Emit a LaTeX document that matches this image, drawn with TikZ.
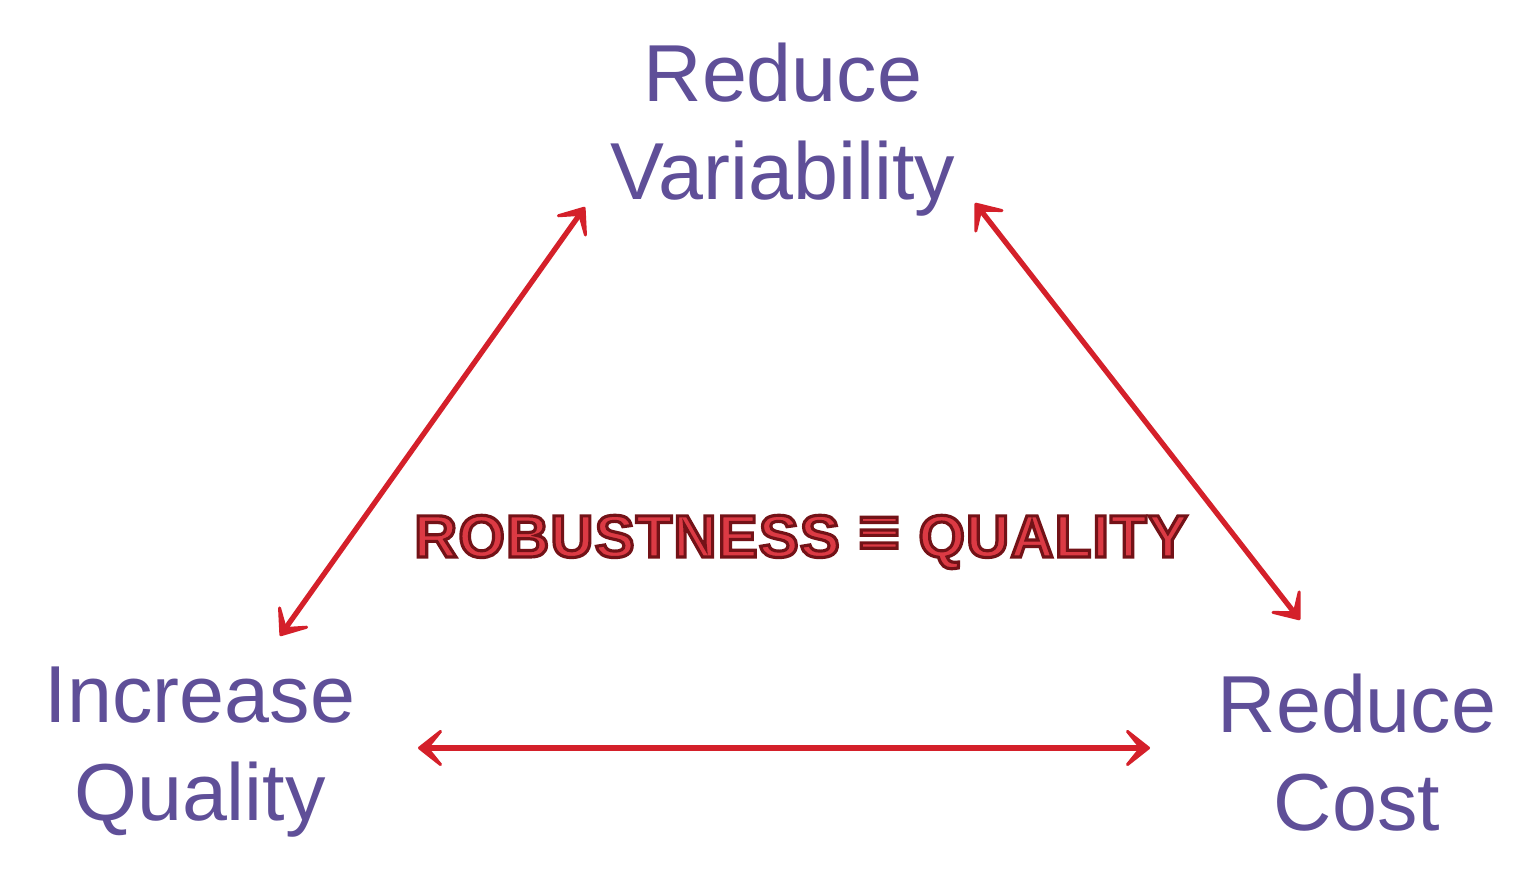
\documentclass[tikz,border=0pt]{standalone}
\usepackage{fontspec}
\setmainfont{Liberation Sans}
\usetikzlibrary{
  arrows.meta,
  positioning
}
\definecolor{triPurple}{HTML}{5F4F98}
\definecolor{triRed}{HTML}{D4202A}
\definecolor{triFill}{HTML}{DC3A44}
% outlined text: fill in current colour, stroke dark red
\newcommand\outlinetext[1]{%
  \special{pdf:literal direct q 2 Tr 0.9 w 0.45 0.07 0.09 RG}#1\special{pdf:literal direct Q}}
\tikzset{
  every node/.style={inner sep=0pt},
  goal/.style={
    align=center,
    text=triPurple,
    font=\fontsize{23}{28}\selectfont
  },
  motto/.style={
    text=triFill,
    font=\fontsize{17}{20}\selectfont\bfseries\addfontfeature{LetterSpace=2}
  },
  tradeoff/.style={
    {Stealth[round,length=3.3mm,width=5.2mm,inset=2.1mm]}-{Stealth[round,length=3.3mm,width=5.2mm,inset=2.1mm]},
    line width=1.5pt,
    line cap=round,
    line join=round,
    draw=triRed
  }
}
\begin{document}
\begin{tikzpicture}
  \useasboundingbox (0,0) rectangle (15.2,8.84);

  \node[goal, anchor=north] (variability) at (7.83,8.42) {Reduce\\Variability};
  \node[goal, anchor=north] (quality) at (2.00,2.18) {Increase\\Quality};
  \node[goal, anchor=north] (cost) at (13.57,2.11) {Reduce\\Cost};

  \node[motto, anchor=base] (robust) at (8.01,3.27)
    {\outlinetext{ROBUSTNESS {\fontsize{21}{20}\selectfont≡} QUALITY}};

  % arrow ends
  \coordinate (varL) at (5.85,6.77);
  \coordinate (qualT) at (2.80,2.48);
  \coordinate (varR) at (9.75,6.81);
  \coordinate (costT) at (13.00,2.64);
  \coordinate (qualR) at (4.18,1.36);
  \coordinate (costL) at (11.50,1.36);

  \draw[tradeoff] (varL) -- (qualT);
  \draw[tradeoff] (varR) -- (costT);
  \draw[tradeoff] (qualR) -- (costL);
\end{tikzpicture}
\end{document}
